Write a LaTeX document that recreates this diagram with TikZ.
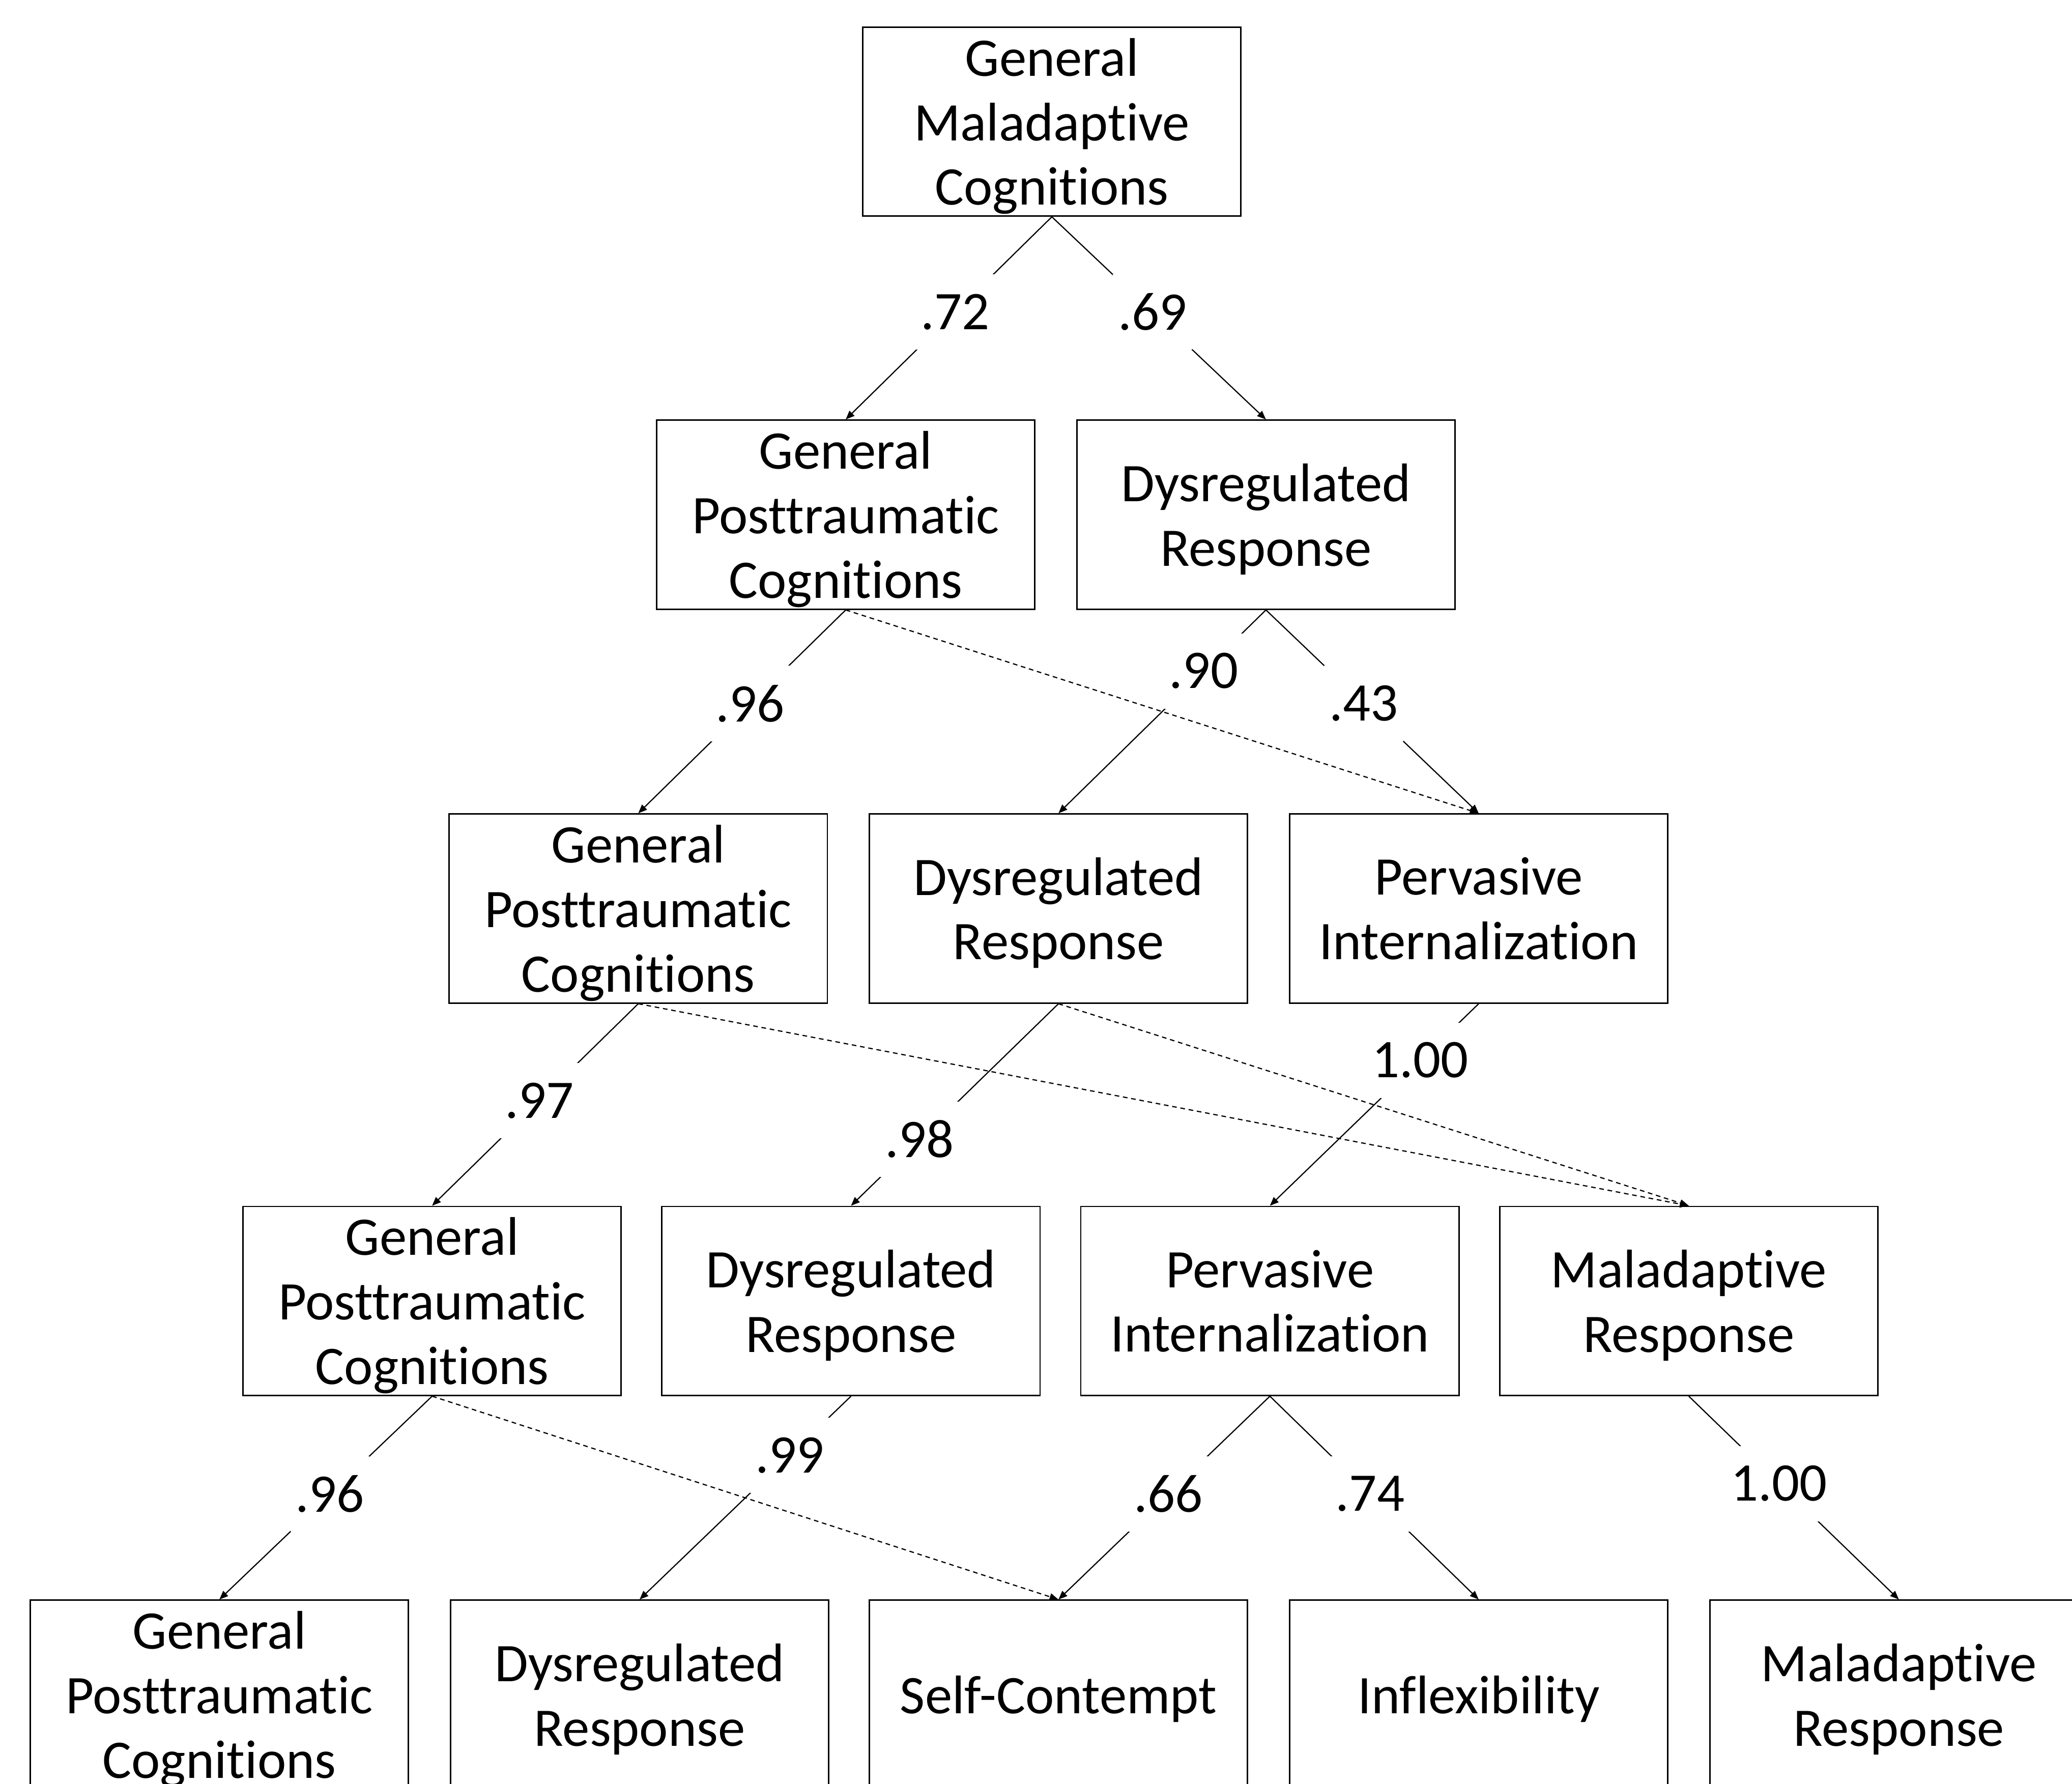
\documentclass[tikz,border=0pt]{standalone}
\usepackage{fontspec}
\setmainfont{Carlito}[Ligatures=NoCommon]
\usetikzlibrary{arrows.meta}

\begin{document}
\begin{tikzpicture}[x=0.01cm, y=-0.01cm,
  box/.style={draw, line width=0.3pt, minimum width=2.86cm, minimum height=1.43cm,
    inner sep=0pt, align=center, text depth=0pt, font=\fontsize{11.7}{13.9}\selectfont},
  load/.style={fill=white, inner sep=1pt, minimum width=0.6cm, minimum height=0.57cm,
    font=\fontsize{11.7}{13.9}\selectfont},
  link/.style={line width=0.25pt, -{Triangle[length=1.9pt, width=1.5pt]}},
  cross/.style={link, dash pattern=on 1pt off 0.8pt}]

% Page frame (bottom row runs off the edge)
\useasboundingbox (0,0) rectangle (1568,1350);
\clip (0,0) rectangle (1568,1350);

% Level 1
\node[box] (gmc) at (796,92) {General\\Maladaptive\\Cognitions};

% Level 2
\node[box] (gpc2) at (640,389.5) {General\\Posttraumatic\\Cognitions};
\node[box] (dr2) at (958,389.5) {Dysregulated\\Response};

% Level 3
\node[box] (gpc3) at (483,687.5) {General\\Posttraumatic\\Cognitions};
\node[box] (dr3) at (801,687.5) {Dysregulated\\Response};
\node[box] (pi3) at (1119,687.5) {Pervasive\\Internalization};

% Level 4
\node[box] (gpc4) at (327,984.5) {General\\Posttraumatic\\Cognitions};
\node[box] (dr4) at (644,984.5) {Dysregulated\\Response};
\node[box] (pi4) at (961,984.5) {Pervasive\\Internalization};
\node[box] (mr4) at (1278,984.5) {Maladaptive\\Response};

% Level 5
\node[box] (gpc5) at (166,1282.5) {General\\Posttraumatic\\Cognitions};
\node[box] (dr5) at (484,1282.5) {Dysregulated\\Response};
\node[box] (sc5) at (801,1282.5) {Self-Contempt};
\node[box] (inf5) at (1119,1282.5) {Inflexibility};
\node[box] (mr5) at (1437,1282.5) {Maladaptive\\Response};

% Loadings between levels
\draw[link] (gmc.south) -- node[load, pos=0.47] {.72} (gpc2.north);
\draw[link] (gmc.south) -- node[load, pos=0.47] {.69} (dr2.north);

\draw[link] (gpc2.south) -- node[load, pos=0.46] {.96} (gpc3.north);
\draw[link] (dr2.south) -- node[load, pos=0.30] {.90} (dr3.north);
\draw[link] (dr2.south) -- node[load, pos=0.46] {.43} (pi3.north);

\draw[link] (gpc3.south) -- node[load, pos=0.48] {.97} (gpc4.north);
\draw[link] (dr3.south) -- node[load, pos=0.67] {.98} (dr4.north);
\draw[link] (pi3.south) -- node[load, pos=0.28] {1.00} (pi4.north);

\draw[link] (gpc4.south) -- node[load, pos=0.48] {.96} (gpc5.north);
\draw[link] (dr4.south) -- node[load, pos=0.29] {.99} (dr5.north);
\draw[link] (pi4.south) -- node[load, pos=0.48] {.66} (sc5.north);
\draw[link] (pi4.south) -- node[load, pos=0.48] {.74} (inf5.north);
\draw[link] (mr4.south) -- node[load, pos=0.43] {1.00} (mr5.north);

% Dashed cross links
\draw[cross] (gpc2.south) -- (pi3.north);
\draw[cross] (gpc3.south) -- (mr4.north);
\draw[cross] (dr3.south) -- (mr4.north);
\draw[cross] (gpc4.south) -- (sc5.north);

\end{tikzpicture}
\end{document}
